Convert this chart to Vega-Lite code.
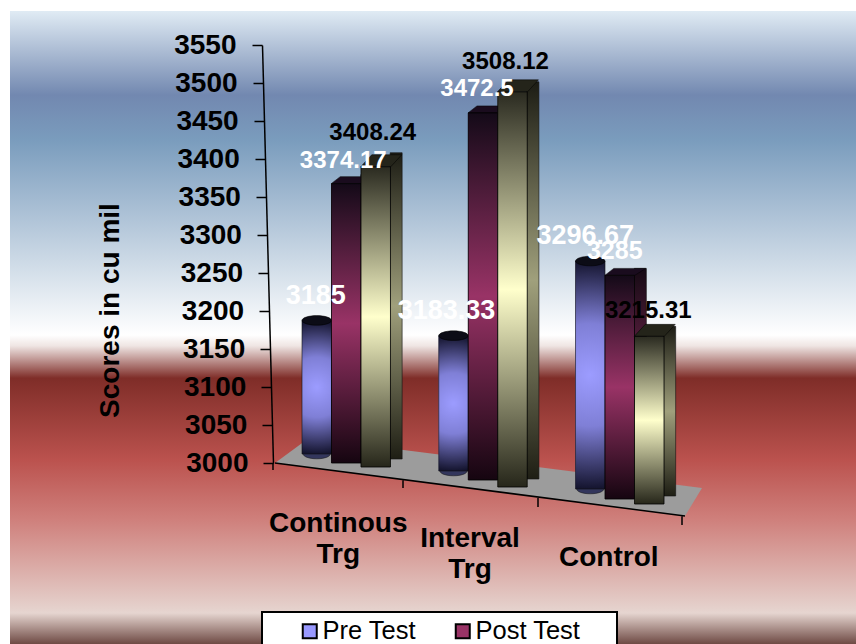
{
"$schema":"https://vega.github.io/schema/vega-lite/v6.json",
"width":846,"height":633,"padding":{"left":10,"top":11,"right":0,"bottom":0},"autosize":{"type":"none"},
"background":"white",
"view":{"stroke":null,"fill":{"gradient":"linear","x1":0,"y1":0,"x2":0,"y2":1,"stops":[{"offset":0,"color":"#e0ebf4"},{"offset":0.133,"color":"#7288b0"},{"offset":0.204,"color":"#7a9cbd"},{"offset":0.512,"color":"#ffffff"},{"offset":0.529,"color":"#efe5e3"},{"offset":0.58,"color":"#7f2d28"},{"offset":0.709,"color":"#bb524e"},{"offset":0.804,"color":"#cf807c"},{"offset":0.951,"color":"#e6d5d0"},{"offset":1,"color":"#6e4a44"}]}},
"config":{"font":"Liberation Sans"},
"params":[
{"name":"gs","value":["Continous Trg","Interval Trg","Control"]},
{"name":"ss","value":["Pre Test","Post Test","Series 3"]},
{"name":"fTop","value":[-2,5,14,12,9,15,23.5,29,37]},
{"name":"bBot","value":[-9,0,4,8,17,24,26,36,41]},
{"name":"bTop","value":[-6,-4,0,7,4,5,19.5,22,27]},
{"name":"ldx","value":[-1,-3,-3,-7,-6,-7,-5,-5,-1]},
{"name":"ldy","value":[-26,-18,-20,-13,-15,-15,-2,5,12]},
{"name":"lfs","value":[27,24,24,27,24,24,27,25,24]}
],
"data":{"values":[
{"group":"Continous Trg","series":"Pre Test","value":3185},
{"group":"Continous Trg","series":"Post Test","value":3374.17},
{"group":"Continous Trg","series":"Series 3","value":3408.24},
{"group":"Interval Trg","series":"Pre Test","value":3183.33},
{"group":"Interval Trg","series":"Post Test","value":3472.5},
{"group":"Interval Trg","series":"Series 3","value":3508.12},
{"group":"Control","series":"Pre Test","value":3296.67},
{"group":"Control","series":"Post Test","value":3285},
{"group":"Control","series":"Series 3","value":3215.31}
]},
"encoding":{
"x":{"field":"group","type":"nominal","sort":["Continous Trg","Interval Trg","Control"],
 "scale":{"domain":["Continous Trg","Interval Trg","Control"],"range":[292,654],"paddingInner":0.353,"paddingOuter":0},
 "axis":{"title":null,"domain":false,"ticks":false,"labelAngle":0,"orient":"bottom","offset":-144,"labelPadding":0,"labelFontSize":28,"labelFontWeight":"bold","labelColor":"black","labelOverlap":false,"labelFlush":false,"labelLimit":300,"labelBaseline":"top","labelLineHeight":31,"labelExpr":"split(datum.label,' ')",
  "encoding":{"labels":{"dx":{"value":{"expr":"[-8,-13,-11][indexof(gs,datum.value)]"}},"dy":{"value":{"expr":"[9,24,43][indexof(gs,datum.value)]"}}}}}},
"xOffset":{"field":"series","type":"nominal","sort":["Pre Test","Post Test","Series 3"],"scale":{"domain":["Pre Test","Post Test","Series 3"],"paddingInner":0,"paddingOuter":0}},
"y":{"field":"value","type":"quantitative",
 "scale":{"domain":[3000,3550],"range":[452,34],"nice":false,"zero":false},
 "axis":{"title":"Scores in cu mil","titleFontSize":28,"titleFontWeight":"bold","titleColor":"black","titleX":-138,"titleY":299,"titleAnchor":"middle","values":[3000,3050,3100,3150,3200,3250,3300,3350,3400,3450,3500,3550],"offset":-252,"grid":false,"tickSize":10,"tickColor":"black","tickWidth":1.5,"domainColor":"black","domainWidth":1.5,"labelFontSize":28,"labelFontWeight":"bold","labelColor":"black","labelPadding":16,"format":"d",
  "encoding":{"labels":{"dx":{"value":{"expr":"(3550-datum.value)*12/550"}}},
   "ticks":{"x":{"value":{"expr":"(3550-datum.value)*11/550"}},"x2":{"value":{"expr":"(3550-datum.value)*11/550-10"}}},
   "domain":{"x":{"value":11},"x2":{"value":0}}}}}
},
"layer":[
{"data":{"values":[{"group":"Interval Trg","series":"Post Test","value":3000}]},
 "mark":{"type":"point","filled":true,"opacity":1,"size":40000,"fill":"#9c9c9c","stroke":null,"shape":"M-2.08,0 L-1.74,-.25 L2.19,.25 L2.02,.53 Z"}},
{"data":{"values":[{"group":"Interval Trg","series":"Post Test","value":3000}]},
 "mark":{"type":"point","filled":false,"opacity":1,"size":40000,"stroke":"black","strokeWidth":1.5,"shape":"M-2.08,0 L2.02,.53 M-2.1,0 L-2.1,.07 M-.8,.17 L-.8,.25 M.55,.35 L.55,.44 M1.99,.53 L1.99,.62"}},
{"mark":{"type":"bar","yOffset":{"expr":"fTop[indexof(gs,datum.group)*3+indexof(ss,datum.series)]"},"y2Offset":{"expr":"bBot[indexof(gs,datum.group)*3+indexof(ss,datum.series)]"}},
 "encoding":{"y2":{"datum":3000},"color":{"field":"series","type":"nominal","scale":{"domain":["Pre Test","Post Test","Series 3"],"range":["#9999ff","#993366","#ffffcc"]},
  "legend":{"values":["Pre Test","Post Test"],"title":null,"orient":"none","legendX":287,"legendY":607,"direction":"horizontal","symbolType":"square","symbolSize":196,"symbolStrokeColor":"black","symbolStrokeWidth":2,"symbolOpacity":1,"labelFontSize":25.5,"labelColor":"black","columnPadding":33,"labelOffset":0,"labelLimit":200}}}},
{"transform":[{"filter":"datum.series=='Pre Test'"}],
 "mark":{"type":"point","filled":true,"opacity":1,"size":1024,"fill":"#33365c","stroke":"#111","strokeWidth":0.5,"yOffset":{"expr":"bBot[indexof(gs,datum.group)*3]"},"shape":"M-.85,0 A.85,.3 0 1 1 .85,0 A.85,.3 0 1 1 -.85,0 Z"},
 "encoding":{"y":{"datum":3000}}},
{"transform":[{"filter":"datum.series=='Pre Test'"}],
 "mark":{"type":"bar","stroke":"#111","strokeWidth":0.6,"yOffset":{"expr":"fTop[indexof(gs,datum.group)*3]"},"y2Offset":{"expr":"bBot[indexof(gs,datum.group)*3]"},
  "fill":{"gradient":"radial","x1":0.5,"y1":0.5,"r1":0,"x2":0.5,"y2":0.5,"r2":0.5,"stops":[{"offset":0,"color":"#9c9cff"},{"offset":0.45,"color":"#7f7fd6"},{"offset":1,"color":"#14142e"}]}},
 "encoding":{"y2":{"datum":3000}}},
{"transform":[{"filter":"datum.series=='Pre Test'"}],
 "mark":{"type":"point","filled":true,"opacity":1,"size":1024,"fill":"#0c0c16","stroke":"#000","strokeWidth":0.5,"yOffset":{"expr":"fTop[indexof(gs,datum.group)*3]"},"shape":"M-.92,0 A.92,.3 0 1 1 .92,0 A.92,.3 0 1 1 -.92,0 Z"}},
{"transform":[{"filter":"datum.series=='Post Test'"}],
 "mark":{"type":"bar","width":12,"xOffset":20.6,"stroke":"#111","strokeWidth":0.6,"yOffset":{"expr":"bTop[indexof(gs,datum.group)*3+1]"},"y2Offset":{"expr":"bBot[indexof(gs,datum.group)*3+1]-8"},
  "fill":{"gradient":"linear","x1":0,"y1":0,"x2":0,"y2":1,"stops":[{"offset":0,"color":"#150a14"},{"offset":0.5,"color":"#70264c"},{"offset":1,"color":"#1a0a14"}]}},
 "encoding":{"xOffset":null,"y2":{"datum":3000}}},
{"transform":[{"filter":"datum.series=='Post Test'"}],
 "mark":{"type":"point","filled":true,"opacity":1,"size":1600,"fill":"#1a0c1e","stroke":"#000","strokeWidth":0.5,"yOffset":{"expr":"fTop[indexof(gs,datum.group)*3+1]"},"shape":"M-.75,0 L.75,0 L1.3,-.35 L-.3,-.35 Z"}},
{"transform":[{"filter":"datum.series=='Post Test'"}],
 "mark":{"type":"bar","stroke":"#000","strokeWidth":0.8,"yOffset":{"expr":"fTop[indexof(gs,datum.group)*3+1]"},"y2Offset":{"expr":"bBot[indexof(gs,datum.group)*3+1]"},
  "fill":{"gradient":"linear","x1":0,"y1":0,"x2":0,"y2":1,"stops":[{"offset":0,"color":"#140a18"},{"offset":0.5,"color":"#993366"},{"offset":1,"color":"#150510"}]}},
 "encoding":{"y2":{"datum":3000}}},
{"transform":[{"filter":"datum.series=='Series 3'"}],
 "mark":{"type":"bar","width":12,"xOffset":49.9,"stroke":"#111","strokeWidth":0.6,"yOffset":{"expr":"bTop[indexof(gs,datum.group)*3+2]"},"y2Offset":{"expr":"bBot[indexof(gs,datum.group)*3+2]-8"},
  "fill":{"gradient":"linear","x1":0,"y1":0,"x2":0,"y2":1,"stops":[{"offset":0,"color":"#1c1c14"},{"offset":0.5,"color":"#a0a07c"},{"offset":1,"color":"#1e1e14"}]}},
 "encoding":{"xOffset":null,"y2":{"datum":3000}}},
{"transform":[{"filter":"datum.series=='Series 3'"}],
 "mark":{"type":"point","filled":true,"opacity":1,"size":1600,"fill":"#24241a","stroke":"#000","strokeWidth":0.5,"yOffset":{"expr":"fTop[indexof(gs,datum.group)*3+2]"},"shape":"M-.75,0 L.75,0 L1.3,-.6 L-.2,-.6 Z"}},
{"transform":[{"filter":"datum.series=='Series 3'"}],
 "mark":{"type":"bar","stroke":"#000","strokeWidth":0.8,"yOffset":{"expr":"fTop[indexof(gs,datum.group)*3+2]"},"y2Offset":{"expr":"bBot[indexof(gs,datum.group)*3+2]"},
  "fill":{"gradient":"linear","x1":0,"y1":0,"x2":0,"y2":1,"stops":[{"offset":0,"color":"#2a2a20"},{"offset":0.5,"color":"#ffffcc"},{"offset":1,"color":"#26261a"}]}},
 "encoding":{"y2":{"datum":3000}}},
{"mark":{"type":"text","fontWeight":"bold","baseline":"middle","align":"center",
  "dx":{"expr":"ldx[indexof(gs,datum.group)*3+indexof(ss,datum.series)]"},
  "dy":{"expr":"ldy[indexof(gs,datum.group)*3+indexof(ss,datum.series)]"},
  "fontSize":{"expr":"lfs[indexof(gs,datum.group)*3+indexof(ss,datum.series)]"},
  "fill":{"expr":"datum.series=='Series 3'?'#000000':'#ffffff'"}},
 "encoding":{"text":{"field":"value","type":"nominal"}}},
{"data":{"values":[{"group":"Interval Trg","series":"Post Test","value":3000}]},
 "mark":{"type":"point","filled":true,"opacity":1,"size":40000,"fill":"white","stroke":"black","strokeWidth":2,"shape":"M-2.21,1.49 L1.34,1.49 L1.34,1.95 L-2.21,1.95 Z"}}
]
}
